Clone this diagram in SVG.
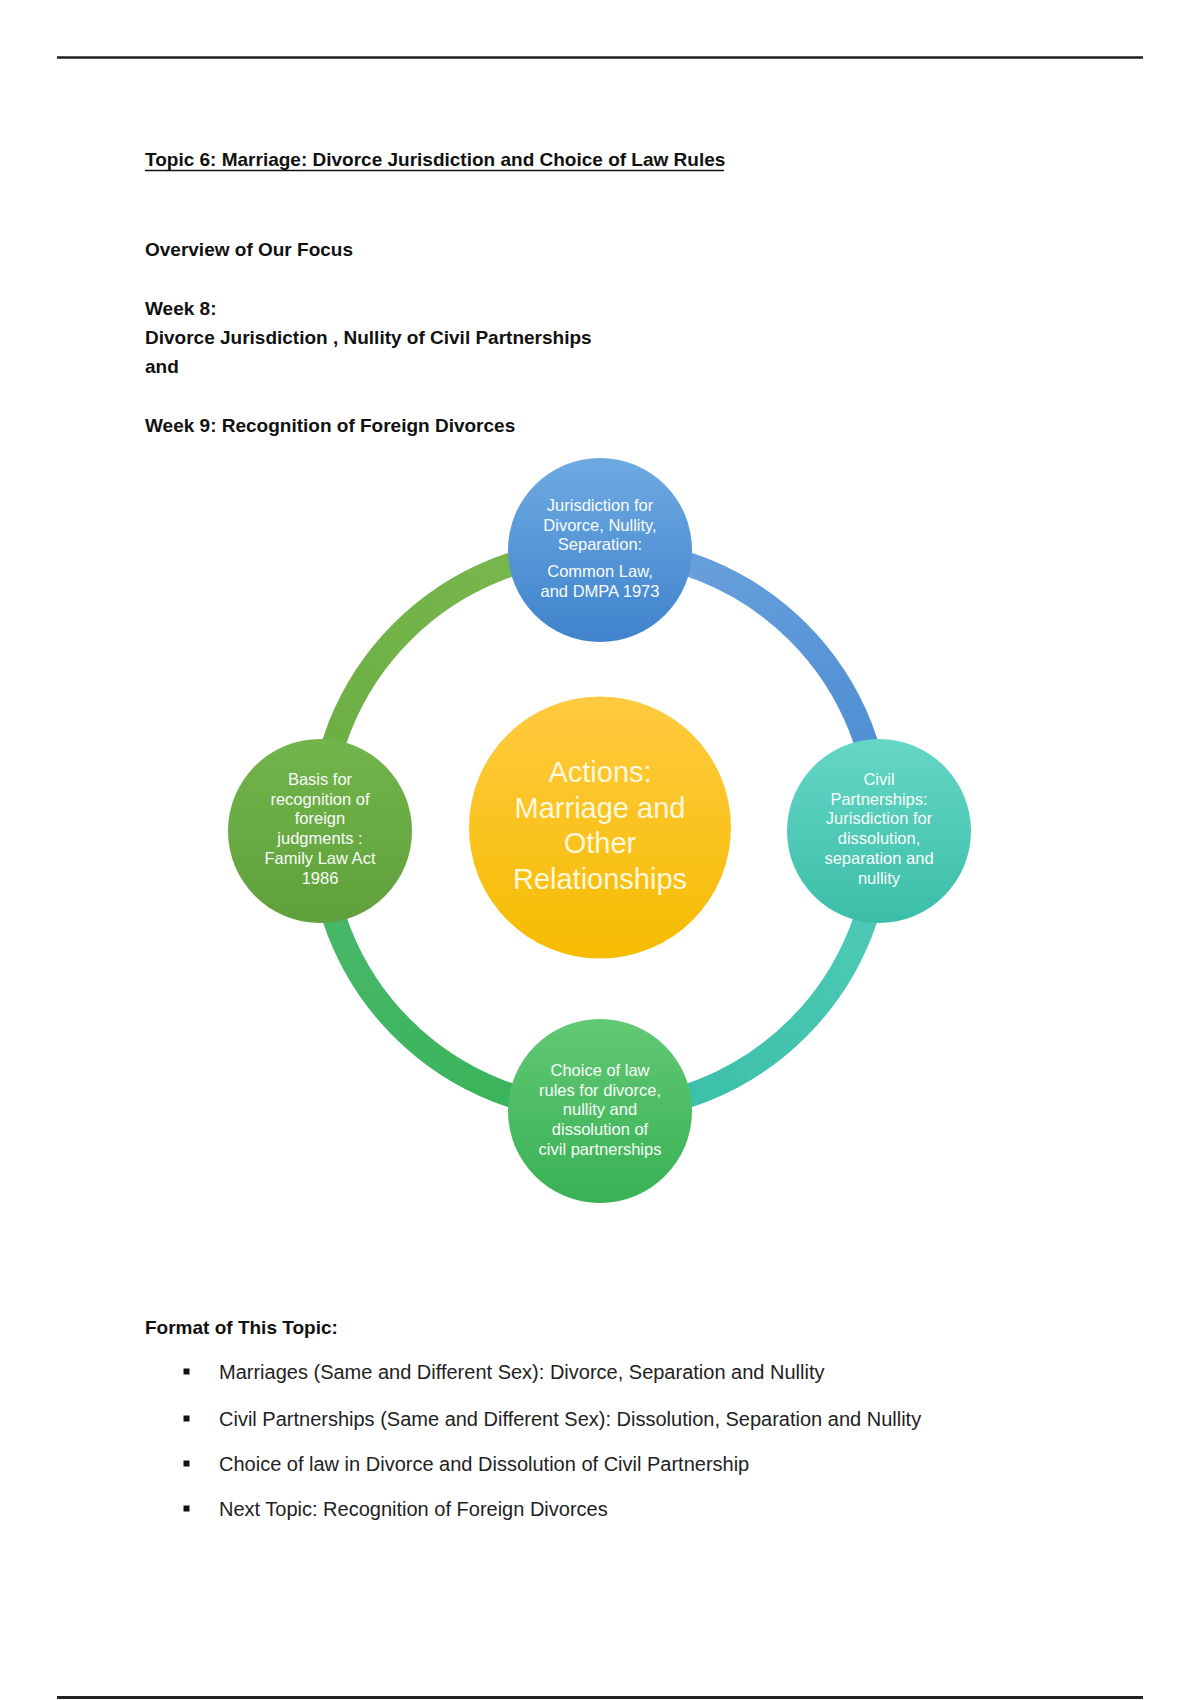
<svg xmlns="http://www.w3.org/2000/svg" width="1200" height="1700" viewBox="0 0 1200 1700">
<defs>
<style>
.b{font-family:"Liberation Sans",Arial,sans-serif;font-weight:bold;font-size:19px;fill:#111}
.r{font-family:"Liberation Sans",Arial,sans-serif;font-size:20px;fill:#222}
.s{font-family:"Liberation Sans",Arial,sans-serif;font-size:16.5px;fill:#fafcfa;text-anchor:middle}
.c{font-family:"Liberation Sans",Arial,sans-serif;font-size:29px;fill:#fff8de;text-anchor:middle}
.arc{fill:none;stroke-width:24}
</style>
<linearGradient id="gTop" x1="0" y1="0" x2="0" y2="1"><stop offset="0" stop-color="#6eaae2"/><stop offset="1" stop-color="#3f83cc"/></linearGradient>
<linearGradient id="gLeft" x1="0" y1="0" x2="0" y2="1"><stop offset="0" stop-color="#72b54b"/><stop offset="1" stop-color="#60a03c"/></linearGradient>
<linearGradient id="gRight" x1="0" y1="0" x2="0" y2="1"><stop offset="0" stop-color="#66d6c6"/><stop offset="1" stop-color="#3bbea9"/></linearGradient>
<linearGradient id="gBottom" x1="0" y1="0" x2="0" y2="1"><stop offset="0" stop-color="#62c874"/><stop offset="1" stop-color="#38b154"/></linearGradient>
<linearGradient id="gCenter" x1="0" y1="0" x2="0" y2="1"><stop offset="0" stop-color="#ffca40"/><stop offset="1" stop-color="#f5bc00"/></linearGradient>
<linearGradient id="aTL" gradientUnits="userSpaceOnUse" x1="320" y1="830" x2="600" y2="550"><stop offset="0" stop-color="#6aad43"/><stop offset="1" stop-color="#7ab84f"/></linearGradient>
<linearGradient id="aTR" gradientUnits="userSpaceOnUse" x1="600" y1="550" x2="880" y2="830"><stop offset="0" stop-color="#6ea4dd"/><stop offset="1" stop-color="#4a8bd2"/></linearGradient>
<linearGradient id="aBR" gradientUnits="userSpaceOnUse" x1="880" y1="830" x2="600" y2="1110"><stop offset="0" stop-color="#50ccb9"/><stop offset="1" stop-color="#38bda6"/></linearGradient>
<linearGradient id="aBL" gradientUnits="userSpaceOnUse" x1="600" y1="1110" x2="320" y2="830"><stop offset="0" stop-color="#37b357"/><stop offset="1" stop-color="#4ab86c"/></linearGradient>
</defs>
<rect width="1200" height="1700" fill="#ffffff"/>
<line x1="57" y1="57.5" x2="1143" y2="57.5" stroke="#222" stroke-width="2.5"/>
<line x1="57" y1="1697.5" x2="1143" y2="1697.5" stroke="#222" stroke-width="3"/>

<g id="header">
<text class="b" x="145" y="166">Topic 6: Marriage: Divorce Jurisdiction and Choice of Law Rules</text>
<line x1="145" y1="170.5" x2="724" y2="170.5" stroke="#111" stroke-width="1.6"/>
<text class="b" x="145" y="256">Overview of Our Focus</text>
<text class="b" x="145" y="315">Week 8:</text>
<text class="b" x="145" y="343.5">Divorce Jurisdiction , Nullity of Civil Partnerships</text>
<text class="b" x="145" y="373">and</text>
<text class="b" x="145" y="432">Week 9: Recognition of Foreign Divorces</text>
</g>

<g id="connectors">
<path class="arc" stroke="url(#aTL)" d="M320,830 A280,280 0 0 1 600,550"/>
<path class="arc" stroke="url(#aTR)" d="M600,550 A280,280 0 0 1 880,830"/>
<path class="arc" stroke="url(#aBR)" d="M880,830 A280,280 0 0 1 600,1110"/>
<path class="arc" stroke="url(#aBL)" d="M600,1110 A280,280 0 0 1 320,830"/>
</g>

<g id="center">
<circle cx="600" cy="827.5" r="131" fill="url(#gCenter)"/>
<text class="c" x="600" y="782">Actions:</text>
<text class="c" x="600" y="817.6">Marriage and</text>
<text class="c" x="600" y="853.2">Other</text>
<text class="c" x="600" y="888.8">Relationships</text>
</g>

<g id="top">
<circle cx="600" cy="550" r="92" fill="url(#gTop)"/>
<text class="s" x="600" y="511">Jurisdiction for</text>
<text class="s" x="600" y="530.5">Divorce, Nullity,</text>
<text class="s" x="600" y="550">Separation:</text>
<text class="s" x="600" y="577">Common Law,</text>
<text class="s" x="600" y="597">and DMPA 1973</text>
</g>

<g id="left">
<circle cx="320" cy="831" r="92" fill="url(#gLeft)"/>
<text class="s" x="320" y="785">Basis for</text>
<text class="s" x="320" y="804.7">recognition of</text>
<text class="s" x="320" y="824.4">foreign</text>
<text class="s" x="320" y="844.1">judgments :</text>
<text class="s" x="320" y="863.8">Family Law Act</text>
<text class="s" x="320" y="883.5">1986</text>
</g>

<g id="right">
<circle cx="879" cy="831" r="92" fill="url(#gRight)"/>
<text class="s" x="879" y="785">Civil</text>
<text class="s" x="879" y="804.7">Partnerships:</text>
<text class="s" x="879" y="824.4">Jurisdiction for</text>
<text class="s" x="879" y="844.1">dissolution,</text>
<text class="s" x="879" y="863.8">separation and</text>
<text class="s" x="879" y="883.5">nullity</text>
</g>

<g id="bottom">
<circle cx="600" cy="1111" r="92" fill="url(#gBottom)"/>
<text class="s" x="600" y="1076">Choice of law</text>
<text class="s" x="600" y="1095.7">rules for divorce,</text>
<text class="s" x="600" y="1115.4">nullity and</text>
<text class="s" x="600" y="1135.1">dissolution of</text>
<text class="s" x="600" y="1154.8">civil partnerships</text>
</g>

<g id="format">
<text class="b" x="145" y="1334">Format of This Topic:</text>
<rect x="183.5" y="1368.5" width="6" height="6" fill="#111"/>
<text class="r" x="219" y="1379">Marriages (Same and Different Sex): Divorce, Separation and Nullity</text>
<rect x="183.5" y="1415.5" width="6" height="6" fill="#111"/>
<text class="r" x="219" y="1426">Civil Partnerships (Same and Different Sex): Dissolution, Separation and Nullity</text>
<rect x="183.5" y="1460.5" width="6" height="6" fill="#111"/>
<text class="r" x="219" y="1471">Choice of law in Divorce and Dissolution of Civil Partnership</text>
<rect x="183.5" y="1505.5" width="6" height="6" fill="#111"/>
<text class="r" x="219" y="1516">Next Topic: Recognition of Foreign Divorces</text>
</g>
</svg>
